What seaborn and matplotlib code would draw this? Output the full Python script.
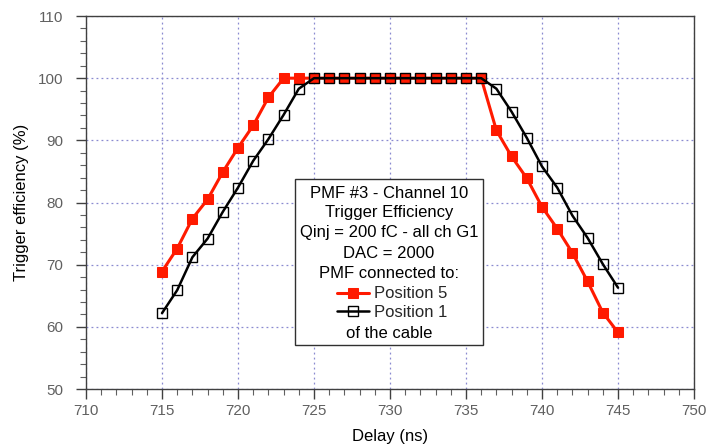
import matplotlib
matplotlib.use("Agg")
import matplotlib.pyplot as plt
import seaborn as sns
import pandas as pd
from matplotlib.patches import Rectangle
from matplotlib.ticker import MultipleLocator

sns.set_theme(style="white")
plt.rcParams['font.family'] = ['Liberation Sans', 'DejaVu Sans']

delay = list(range(715, 746))
pos5 = [68.9, 72.6, 77.4, 80.5, 84.9, 88.8, 92.4, 96.9, 100, 100,
        100, 100, 100, 100, 100, 100, 100, 100, 100, 100, 100, 100,
        91.6, 87.4, 83.9, 79.3, 75.8, 71.9, 67.3, 62.3, 59.1]
pos1 = [62.2, 65.9, 71.2, 74.2, 78.5, 82.4, 86.7, 90.2, 94.1, 98.3,
        100, 100, 100, 100, 100, 100, 100, 100, 100, 100, 100, 100,
        98.3, 94.6, 90.4, 85.8, 82.4, 77.9, 74.3, 70.1, 66.3]
legend_lines = ["PMF #3 - Channel 10", "Trigger Efficiency",
                "Qinj = 200 fC - all ch G1", "DAC = 2000", "PMF connected to:"]
series_names = ["Position 5", "Position 1"]
footer = "of the cable"

df5 = pd.DataFrame({"Delay": delay, "Eff": pos5})
df1 = pd.DataFrame({"Delay": delay, "Eff": pos1})

fig = plt.figure(figsize=(7.08, 4.47), dpi=100)
L, R, T, B = 86, 694, 16, 389
ax = fig.add_axes([L / 708, 1 - B / 447, (R - L) / 708, (B - T) / 447])

red = "#ff1a00"
sns.lineplot(data=df5, x="Delay", y="Eff", ax=ax, color=red, linewidth=2.2,
             marker="s", markersize=7.5, markeredgecolor=red, markerfacecolor=red,
             label=series_names[0], zorder=3)
sns.lineplot(data=df1, x="Delay", y="Eff", ax=ax, color="black", linewidth=1.8,
             marker="s", markersize=7, markeredgecolor="black", markerfacecolor="none",
             markeredgewidth=1.0, label=series_names[1], zorder=4)

ax.set_xlim(710, 750)
ax.set_ylim(50, 110)
ax.xaxis.set_major_locator(MultipleLocator(5))
ax.xaxis.set_minor_locator(MultipleLocator(1))
ax.yaxis.set_major_locator(MultipleLocator(10))
ax.yaxis.set_minor_locator(MultipleLocator(2))
ax.grid(True, which="major", color="#8a8ad0", linestyle=(0, (1.5, 2.5)), linewidth=0.9)
ax.tick_params(axis="both", which="major", direction="out", length=7, width=1,
               color="#404040", labelsize=11, labelcolor="#606060",
               bottom=True, left=True, top=False, right=False)
ax.tick_params(axis="y", which="major", pad=9.5)
ax.tick_params(axis="x", which="major", pad=4)
ax.tick_params(axis="both", which="minor", direction="out", length=4, width=0.8,
               color="#606060", bottom=True, left=True, top=False, right=False)
for s in ax.spines.values():
    s.set_color("#404040")
    s.set_linewidth(1.0)
ax.set_xlabel("Delay (ns)", fontsize=12, color="black", labelpad=8)
ax.set_ylabel("Trigger efficiency (%)", fontsize=12, color="black", labelpad=6.5)

# legend box
H = B - T
W = R - L
bx0, bx1, by0, by1 = 295, 483, 345, 179
x0, x1 = (bx0 - L) / W, (bx1 - L) / W
y0, y1 = (B - by0) / H, (B - by1) / H
ax.add_patch(Rectangle((x0, y0), x1 - x0, y1 - y0, transform=ax.transAxes,
                       facecolor="white", edgecolor="#303030", linewidth=1.0, zorder=5))
xc = (x0 + x1) / 2
pix = [193, 213, 233, 253, 273]
for t, py in zip(legend_lines, pix):
    ax.text(xc, (B - py) / H, t, transform=ax.transAxes, ha="center", va="center",
            fontsize=12, color="black", zorder=6)
ax.text(xc, (B - 333) / H, footer, transform=ax.transAxes, ha="center", va="center",
        fontsize=12, color="black", zorder=6)
leg = ax.legend(loc="center", bbox_to_anchor=((392 - L) / W, (B - 303) / H), frameon=False,
                fontsize=12, handlelength=1.9, handletextpad=0.3, labelspacing=0.2,
                borderpad=0)
leg.set_zorder(7)

fig.savefig("out.png", dpi=100)
